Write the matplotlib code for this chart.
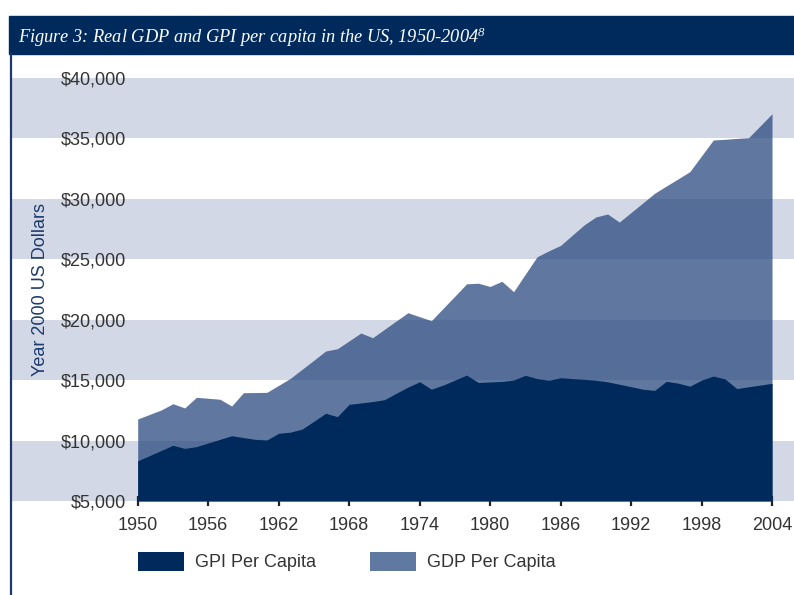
import matplotlib
matplotlib.use("Agg")
import matplotlib.pyplot as plt
from matplotlib.patches import Rectangle, Patch
from matplotlib.lines import Line2D
from matplotlib.ticker import FuncFormatter

years = list(range(1950, 2005))

gdp = [11785, 12160, 12530, 13050, 12700, 13580, 13500, 13420, 12860, 13960,
       13975, 13990, 14570, 15150, 15900, 16650, 17410, 17600, 18250, 18900,
       18510, 19200, 19890, 20580, 20250, 19920, 20940, 21950, 22970, 23020,
       22750, 23180, 22320, 23770, 25210, 25700, 26150, 27000, 27840, 28500,
       28750, 28080, 28870, 29660, 30460, 31060, 31650, 32250, 33560, 34870,
       34930, 35000, 35060, 36050, 37040]

gpi = [8330, 8750, 9180, 9610, 9350, 9500, 9800, 10100, 10400, 10250,
       10100, 10050, 10600, 10700, 10950, 11600, 12260, 11980, 13000, 13110,
       13230, 13380, 13910, 14420, 14870, 14250, 14590, 15000, 15420, 14800,
       14850, 14890, 15010, 15400, 15130, 14990, 15200, 15130, 15070, 14990,
       14860, 14660, 14460, 14250, 14150, 14900, 14750, 14500, 15000, 15340,
       15100, 14300, 14450, 14590, 14740]

x_ticks = list(range(1950, 2005, 6))
y_ticks = list(range(5000, 40001, 5000))
bands = [(5000, 10000), (15000, 20000), (25000, 30000), (35000, 40000)]

NAVY = "#002a5c"
GDP_COL = "#2b4b80"
BAND = "#d3d8e6"

plt.rcParams["font.family"] = ["Liberation Sans", "DejaVu Sans"]
plt.rcParams["mathtext.fontset"] = "custom"
plt.rcParams["mathtext.rm"] = "Liberation Serif:italic"
plt.rcParams["mathtext.it"] = "Liberation Serif:italic"

W, H = 794, 595
fig = plt.figure(figsize=(W / 100, H / 100), dpi=100)

# title bar
fig.patches.append(Rectangle((9 / W, (H - 54) / H), 1, 38 / H,
                             transform=fig.transFigure, color=NAVY, zorder=0))
fig.text(18 / W, (H - 43) / H,
         "Figure 3: Real GDP and GPI per capita in the US, 1950-2004$^{8}$",
         family="Liberation Serif", style="italic", fontsize=13.2,
         color="white", va="baseline", ha="left")
fig.lines.append(Line2D([10.5 / W, 10.5 / W], [0, (H - 54) / H],
                        transform=fig.transFigure, color="#1b3a6b", lw=1.6))

ax = fig.add_axes([12 / W, (H - 501) / H, (W - 12) / W, 423 / H])
for lo, hi in bands:
    ax.axhspan(lo, hi, color=BAND, lw=0, zorder=0)

ax.fill_between(years, 5000, gdp, color=GDP_COL, alpha=0.75, lw=0, zorder=2)
ax.fill_between(years, 5000, gpi, color=NAVY, lw=0, zorder=3)

ax.set_xlim(1939.3, 2005.87)
ax.set_ylim(5000, 40000)
for s in ax.spines.values():
    s.set_visible(False)

ax.set_xticks(x_ticks)
ax.tick_params(axis="x", direction="inout", length=7, width=1.6,
               color="#222222", labelsize=13, labelcolor="#333333", pad=8)
ax.set_yticks(y_ticks)
ax.yaxis.set_major_formatter(FuncFormatter(lambda v, p: "${:,.0f}".format(v)))
ax.tick_params(axis="y", length=0, labelsize=13, labelcolor="#333333", pad=-82)
for t in ax.get_yticklabels():
    t.set_zorder(5)

fig.text(41 / W, (H - 290) / H, "Year 2000 US Dollars", rotation=90,
         fontsize=13, color="#1b3a6b", ha="center", va="center")

handles = [Patch(color=NAVY, lw=0), Patch(color="#6079a0", lw=0)]
fig.legend(handles, ["GPI Per Capita", "GDP Per Capita"], ncol=2,
           loc="center left", bbox_to_anchor=(138 / W, (H - 561.5) / H),
           frameon=False, fontsize=13, borderpad=0, borderaxespad=0,
           handlelength=2.55, handleheight=1.28, handletextpad=0.6,
           columnspacing=3.0, labelcolor="#333333")

fig.savefig("out.png", dpi=100)
